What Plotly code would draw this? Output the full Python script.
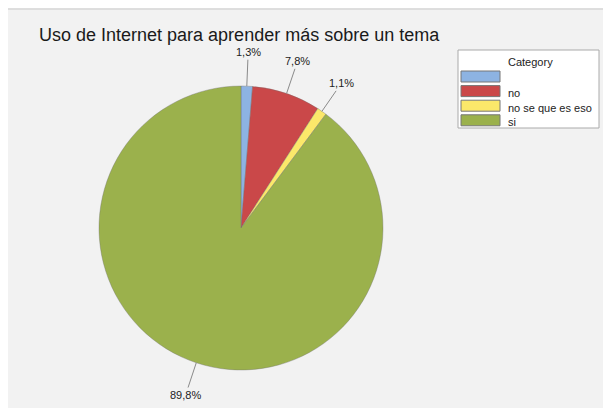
import math
import plotly.graph_objects as go

W, H = 611, 408
OFF = 8  # page body margin
FW, FH = W - OFF, H - OFF

categories = ["", "no", "no se que es eso", "si"]
values = [1.3, 7.8, 1.1, 89.8]
colors = ["#8db3e2", "#ca4849", "#fbe86a", "#9bb14c"]
title_text = "Uso de Internet para aprender más sobre un tema"
legend_title = "Category"

# pie geometry in page pixels
cx, cy, R = 241, 228, 142


def px_x(x):
    return (x - OFF) / FW


def px_y(y):
    return 1 - (y - OFF) / FH


dom_x = [px_x(cx - R), px_x(cx + R)]
dom_y = [px_y(cy + R), px_y(cy - R)]

fig = go.Figure()
fig.add_trace(go.Pie(
    labels=categories, values=values, sort=False, direction="clockwise", rotation=0,
    marker=dict(colors=colors, line=dict(color="rgba(110,110,110,0.6)", width=0.6)),
    textinfo="none", hoverinfo="label+percent", showlegend=False,
    domain=dict(x=dom_x, y=dom_y),
))

FONT = "Liberation Sans, Arial, sans-serif"
annotations = []
total = sum(values)
cum = 0.0
for v in values:
    mid = (cum + v / 2) / total * 2 * math.pi
    cum += v
    ex = cx + R * math.sin(mid)
    ey = cy - R * math.cos(mid)
    d = 34
    annotations.append(dict(
        x=px_x(ex), y=px_y(ey), xref="paper", yref="paper",
        text=("%.1f%%" % v).replace(".", ","), showarrow=True, arrowhead=0,
        arrowwidth=1, arrowcolor="#8a8a8a",
        ax=d * math.sin(mid), ay=-d * math.cos(mid),
        font=dict(family=FONT, size=11, color="#222222"),
    ))

shapes = [
    dict(type="rect", xref="paper", yref="paper", layer="below",
         x0=px_x(0), x1=1, y0=px_y(8.3), y1=1.05,
         fillcolor="#ffffff", line=dict(width=0)),
    dict(type="line", xref="paper", yref="paper", layer="below",
         x0=px_x(7), x1=1, y0=px_y(9), y1=px_y(9),
         line=dict(color="#d6d6d6", width=1.5)),
    dict(type="line", xref="paper", yref="paper", layer="below",
         x0=px_x(7), x1=px_x(7), y0=px_y(9), y1=0,
         line=dict(color="#d6d6d6", width=1.5)),
    dict(type="rect", xref="paper", yref="paper",
         x0=px_x(458), x1=px_x(599), y0=px_y(128), y1=px_y(50),
         fillcolor="#ffffff", line=dict(color="#aaaaaa", width=1)),
]
annotations.append(dict(
    x=px_x(506), y=px_y(62), xref="paper", yref="paper", xanchor="left", yanchor="middle",
    text=legend_title, showarrow=False,
    font=dict(family=FONT, size=11, color="#222222")))
for i, (cat, col) in enumerate(zip(categories, colors)):
    top = 71 + i * 14.6
    shapes.append(dict(type="rect", xref="paper", yref="paper",
                       x0=px_x(461), x1=px_x(500), y0=px_y(top + 11), y1=px_y(top),
                       fillcolor=col, line=dict(color="#777777", width=1)))
    if cat:
        annotations.append(dict(
            x=px_x(506), y=px_y(top + 7.5), xref="paper", yref="paper",
            xanchor="left", yanchor="middle", text=cat, showarrow=False,
            font=dict(family=FONT, size=11, color="#222222")))

fig.update_layout(
    width=FW, height=FH, margin=dict(l=0, r=0, t=0, b=0),
    paper_bgcolor="#f2f2f2", plot_bgcolor="#f2f2f2",
    title=dict(text=title_text, x=px_x(39), xanchor="left", y=px_y(35), yanchor="middle",
               font=dict(family=FONT, size=18, color="#1a1a1a")),
    shapes=shapes, annotations=annotations, showlegend=False,
)

fig.write_html(
    "out.html",
    post_script="document.documentElement.style.overflow='hidden';"
                "document.body.style.overflow='hidden';",
)
